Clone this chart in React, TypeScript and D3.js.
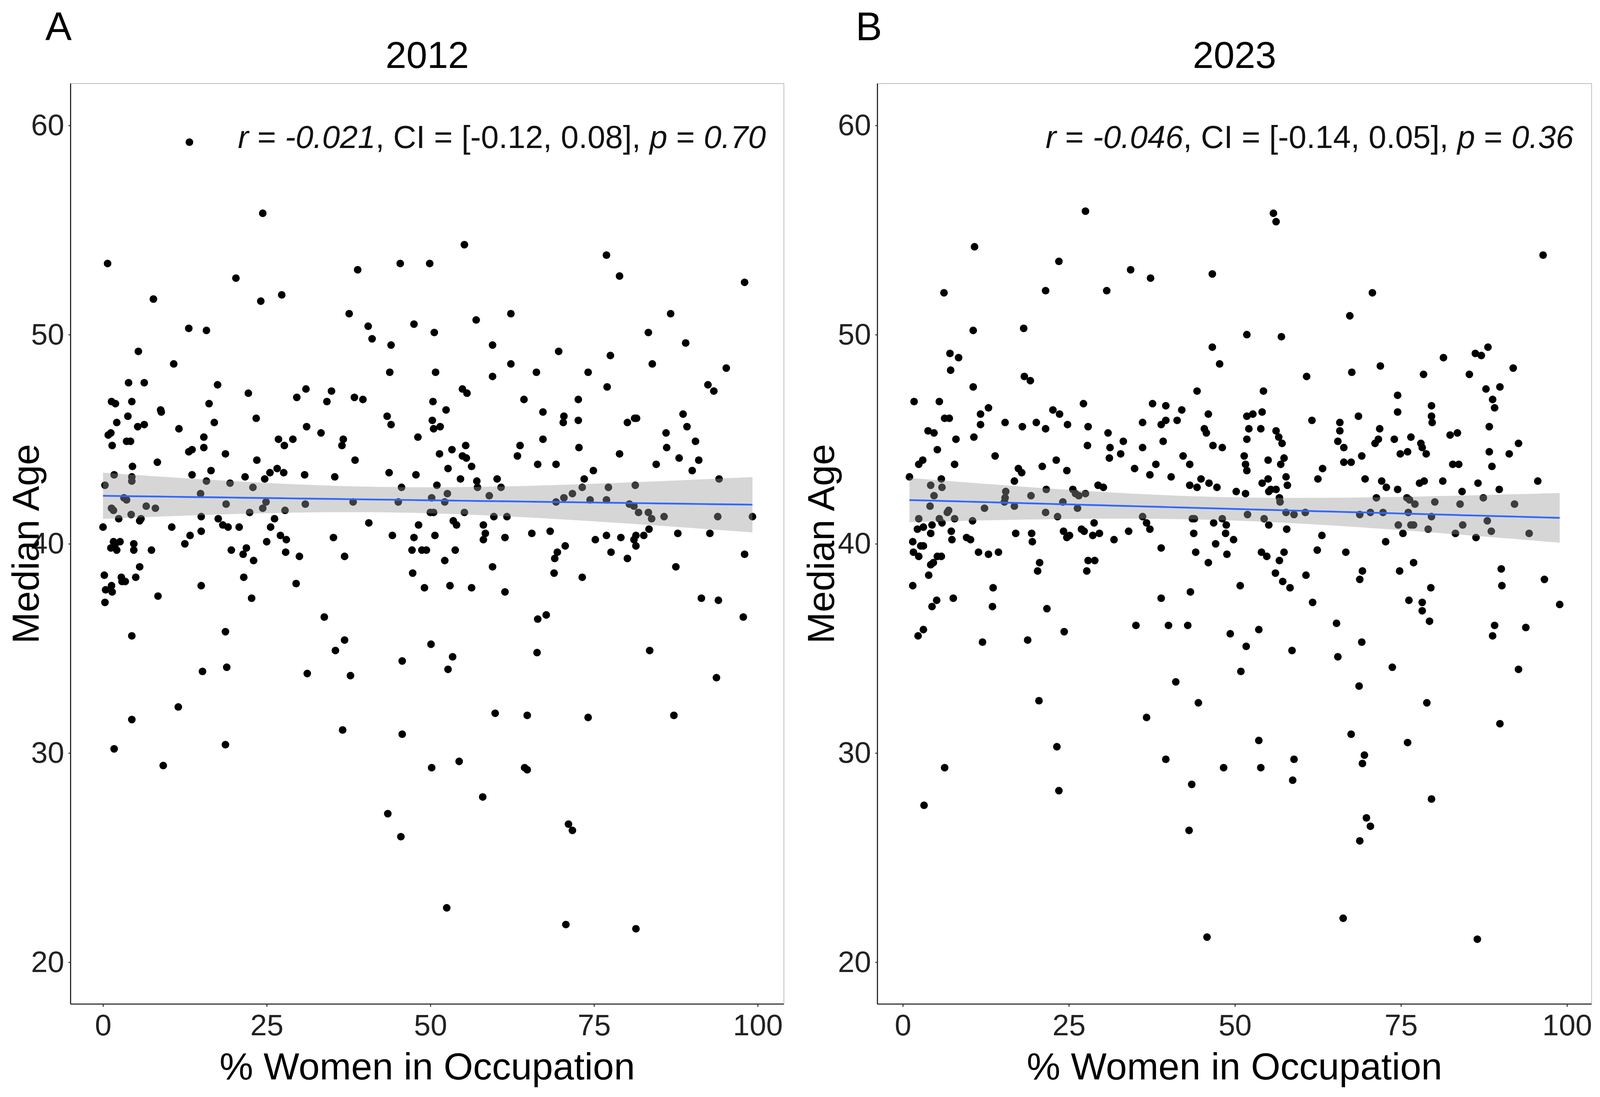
import * as d3 from "d3";
import React, { useEffect, useRef } from "react";

// % women in occupation vs median age
const points2012: [number, number][] = [
  [13.2,59.2],[24.4,55.8],[0.7,53.4],[20.3,52.7],[45.4,53.4],[38.9,53.1],[7.7,51.7],[24.1,51.6],[27.3,51.9],[37.6,51.0],
  [13.1,50.3],[15.8,50.2],[40.5,50.4],[41.1,49.8],[44.0,49.5],[5.4,49.2],[43.8,48.2],[10.8,48.6],[3.9,47.7],[6.3,47.7],
  [17.5,47.6],[22.2,47.2],[31.0,47.4],[34.9,47.3],[29.6,47.0],[34.2,46.8],[38.4,47.0],[39.7,46.9],[1.3,46.8],[1.9,46.7],
  [4.4,46.8],[16.2,46.7],[8.8,46.4],[8.9,46.3],[3.8,46.1],[23.4,46.0],[43.4,46.1],[44.0,45.7],[2.1,45.8],[5.3,45.6],
  [6.3,45.7],[11.6,45.5],[17.0,45.8],[31.1,45.6],[0.8,45.2],[1.2,45.3],[33.3,45.3],[15.4,45.1],[26.8,45.0],[27.7,44.7],
  [29.0,45.0],[36.7,45.0],[36.5,44.7],[3.6,44.9],[4.2,44.9],[1.4,44.7],[15.4,44.6],[13.1,44.4],[13.6,44.5],[18.7,44.3],
  [23.5,44.0],[38.5,44.0],[8.3,43.9],[4.5,43.7],[16.5,43.5],[26.6,43.6],[27.6,43.4],[25.5,43.4],[43.7,43.4],[1.7,43.3],
  [4.4,43.2],[13.6,43.3],[21.7,43.2],[24.7,43.1],[30.8,43.3],[35.4,43.2],[4.4,43.0],[15.8,43.0],[0.3,42.8],[19.4,42.9],
  [22.9,42.7],[45.6,42.7],[14.9,42.4],[3.2,42.2],[3.6,42.1],[1.3,41.7],[1.6,41.6],[6.6,41.8],[8.0,41.7],[18.8,41.9],
  [24.4,41.7],[24.9,42.0],[30.9,41.9],[38.2,42.0],[45.1,42.0],[27.8,41.6],[2.4,41.2],[4.3,41.4],[15.0,41.3],[22.4,41.5],
  [5.6,41.1],[5.8,41.2],[17.6,41.2],[26.2,41.2],[0.0,40.8],[10.5,40.8],[18.3,40.9],[19.1,40.8],[20.8,40.8],[25.6,40.8],
  [40.6,41.0],[15.0,40.6],
  [27.1,40.4],[28.0,40.2],[35.2,40.3],[44.2,40.4],[12.5,40.0],[13.3,40.4],[1.2,39.8],[1.6,40.1],[2.1,39.7],[1.8,39.9],
  [2.6,40.1],[4.7,40.0],[4.7,39.7],[5.6,38.9],[7.4,39.7],[0.2,38.5],[0.3,37.2],[0.4,37.8],[1.3,38.0],[1.4,37.7],
  [2.8,38.4],[2.9,38.2],[3.4,38.2],[5.0,38.4],[8.4,37.5],[15.0,38.0],[19.6,39.7],[21.4,39.5],[21.9,39.8],[23.0,39.2],
  [21.5,38.4],[22.7,37.4],[25.0,40.1],[27.9,39.6],[30.0,39.4],[29.5,38.1],[36.9,39.4],[33.8,36.5],[35.5,34.9],[36.9,35.4],
  [4.4,35.6],[18.7,35.8],[18.9,34.1],[15.2,33.9],[31.2,33.8],[37.8,33.7],[45.7,34.4],[11.5,32.2],[4.4,31.6],[36.6,31.1],
  [45.7,30.9],[1.7,30.2],[18.7,30.4],[9.2,29.4],[43.5,27.1],[45.5,26.0],
  [55.2,54.3],[49.9,53.4],[76.9,53.8],[78.9,52.8],[98.0,52.5],[47.5,50.5],[50.6,50.1],[57.0,50.7],[62.3,51.0],[86.7,51.0],
  [83.3,50.1],[89.0,49.6],[59.5,49.5],[69.6,49.2],[77.5,49.0],[62.3,48.6],[83.9,48.6],[50.8,48.2],[66.2,48.2],[74.1,48.2],
  [95.2,48.4],[59.5,48.0],[77.0,47.5],[54.9,47.4],[55.6,47.2],[92.4,47.6],[93.3,47.3],[64.3,46.9],[72.6,46.9],[50.4,46.8],
  [52.4,46.4],[67.2,46.3],[70.4,46.1],[70.3,45.8],[72.6,45.9],[88.6,46.2],[50.3,45.9],[50.5,45.5],[51.5,45.6],[80.1,45.8],
  [81.2,46.0],[81.5,46.0],[89.2,45.6],[48.1,45.1],[67.2,45.0],[86.0,45.3],[63.7,44.7],[90.5,44.9],[55.4,44.7],[72.7,44.6],
  [86.1,44.6],[53.3,44.5],[63.3,44.2],[51.4,44.3],[78.9,44.3],[54.9,44.2],[55.5,44.1],[56.3,43.7],[88.0,44.1],[91.0,44.0],
  [66.4,43.8],[69.2,43.8],[84.5,43.8],[52.7,43.6],[74.9,43.5],[90.0,43.5],[47.8,43.3],[54.6,43.1],[57.1,43.0],[60.2,43.1],
  [73.5,43.1],[94.1,43.1],[51.0,42.8],[57.2,42.7],[60.8,42.7],[73.2,42.7],[77.2,42.7],[81.3,42.8],[52.6,42.4],[59.0,42.3],
  [71.7,42.4],[70.4,42.2],[50.2,42.2],[52.2,42.0],[69.2,42.0],[74.4,42.1],[76.9,42.1],[80.4,41.9],[81.1,41.8],[50.0,41.5],
  [50.5,41.5],[55.2,41.5],[81.8,41.5],[83.3,41.5],[83.8,41.2],[59.7,41.3],[61.7,41.3],[85.7,41.3],[93.9,41.3],[99.2,41.3],
  [53.5,41.1],[54.0,40.9],[58.1,40.9],[48.2,40.9],[83.4,40.7],[58.4,40.5],[68.3,40.6],[65.5,40.5],[87.8,40.5],[92.7,40.5],
  [47.5,40.3],[50.7,40.4],[47.2,39.7],[48.7,39.7],[49.4,39.7],[47.3,38.6],[49.1,37.9],[52.2,39.2],[53.8,39.7],[53.0,38.0],
  [56.3,37.9],[58.1,40.2],[61.4,40.3],[59.5,38.9],[61.4,37.7],[69.0,39.3],[69.4,39.6],[68.9,38.6],[70.6,39.9],[73.2,38.4],
  [75.2,40.2],[76.9,40.4],[77.6,39.6],[79.1,40.3],[80.1,39.3],[81.1,40.2],[81.4,40.4],[81.4,39.9],[82.6,40.4],[87.5,38.9],
  [98.0,39.5],[91.4,37.4],[94.0,37.3],[97.8,36.5],[66.4,36.4],[67.7,36.6],[50.1,35.2],[53.4,34.6],[52.7,34.0],[66.3,34.8],
  [83.5,34.9],[93.7,33.6],[59.9,31.9],[64.8,31.8],[74.1,31.7],[87.2,31.8],[50.2,29.3],[54.4,29.6],[64.4,29.3],[64.8,29.2],
  [58.0,27.9],[71.1,26.6],[71.7,26.3],[52.5,22.6],[70.7,21.8],[81.4,21.6],
];

const points2023: [number, number][] = [
  [27.5,55.9],[10.8,54.2],[23.5,53.5],[34.3,53.1],[37.3,52.7],[6.2,52.0],[21.5,52.1],[30.7,52.1],[10.6,50.2],[18.2,50.3],
  [7.1,49.1],[8.4,48.9],[7.2,48.3],[18.3,48.0],[19.2,47.8],[10.6,47.5],[44.3,47.3],[1.7,46.8],[5.5,46.8],[27.2,46.7],
  [37.6,46.7],[39.6,46.6],[22.6,46.4],[23.6,46.2],[12.9,46.5],[11.7,46.2],[42.0,46.4],[41.3,45.9],[6.3,46.0],[7.0,46.0],
  [15.4,45.8],[20.1,45.8],[11.7,45.7],[24.8,45.7],[36.1,45.8],[38.9,45.7],[39.6,45.9],[18.0,45.6],[21.5,45.5],[27.9,45.6],
  [3.8,45.4],[4.7,45.3],[30.9,45.3],[10.7,45.1],[8.0,45.0],[33.2,44.9],[39.2,44.9],[5.2,44.5],[27.8,44.7],[31.2,44.6],
  [36.1,44.6],[13.9,44.2],[31.1,44.1],[32.8,44.3],[42.2,44.2],[23.1,44.0],[2.4,43.8],[3.0,44.0],[7.8,43.8],[21.0,43.7],
  [43.2,43.8],[38.1,43.8],[34.9,43.6],[17.4,43.6],[17.9,43.4],[24.7,43.5],[1.0,43.2],[5.8,43.1],[16.8,43.0],[37.2,43.3],
  [40.4,43.2],[44.9,43.1],[29.4,42.8],[30.2,42.7],[43.2,42.8],[44.3,42.7],[4.2,42.8],[5.9,42.7],[21.6,42.6],[25.6,42.6],
  [26.0,42.4],[26.5,42.3],[27.5,42.4],[15.5,42.5],[15.4,42.2],[19.3,42.3],[4.7,42.3],[15.3,42.0],[24.1,42.0],[4.1,41.8],
  [16.8,41.8],[26.3,41.7],[6.9,41.6],[6.7,41.5],[12.3,41.7],[21.5,41.5],[23.3,41.3],[36.1,41.3],[36.7,41.0],[43.6,41.2],
  [43.9,41.2],[2.4,41.2],[7.8,41.2],[5.5,41.2],[5.9,41.0],[10.5,41.1],[28.8,41.0],[37.2,40.7],[3.1,40.8],[2.2,40.7],
  [4.4,40.9],[4.2,40.5],[26.9,40.7],[27.3,40.6],[29.6,40.5],[34.0,40.6],[43.8,40.5],[24.2,40.6],[17.0,40.5],[19.4,40.5],
  [7.3,40.6],
  [1.5,40.1],[1.6,39.6],[2.4,39.4],[2.7,39.9],[3.1,39.9],[3.9,38.5],[4.2,39.0],[4.6,39.1],[5.2,39.4],[5.8,39.4],
  [1.5,38.0],[7.4,40.2],[9.6,40.3],[10.2,40.2],[11.4,39.6],[12.9,39.5],[14.4,39.6],[13.6,37.9],[13.5,37.0],[7.6,37.4],
  [5.1,37.3],[4.4,37.0],[2.3,35.6],[3.1,35.9],[12.0,35.3],[6.3,29.3],[3.2,27.5],[19.5,40.1],[20.6,39.1],[20.3,38.7],
  [21.7,36.9],[18.8,35.4],[20.5,32.5],[23.2,30.3],[23.5,28.2],[24.3,35.8],[24.7,40.3],[25.1,40.4],[27.7,38.7],[27.9,39.2],
  [28.9,39.2],[28.6,40.4],[31.8,40.2],[35.1,36.1],[38.9,39.8],[38.9,37.4],[40.0,36.1],[42.9,36.1],[41.1,33.4],[36.7,31.7],
  [39.6,29.7],[43.5,28.5],[43.1,26.3],[43.3,37.7],[44.1,39.6],[44.5,32.4],
  [46.0,39.1],[47.1,40.0],[48.6,40.5],[49.8,40.2],[48.8,39.5],[50.8,38.0],[49.3,35.7],[51.7,35.1],[50.9,33.9],[48.3,29.3],
  [45.8,21.2],[53.6,35.9],[53.6,30.6],[53.9,29.3],[54.0,39.6],[54.8,39.4],[56.1,38.6],[56.7,39.2],[57.4,39.6],[57.2,38.2],
  [58.3,37.9],[58.6,34.9],[58.9,29.7],[58.7,28.7],[60.7,38.5],[61.7,37.2],[62.4,39.7],[63.1,40.4],[65.3,36.2],[65.5,34.6],
  [66.7,39.6],[67.5,30.9],[66.3,22.1],[68.8,38.3],[69.2,38.7],[69.1,35.3],[68.7,33.2],[69.5,29.9],[69.2,29.5],[69.8,26.9],
  [70.4,26.5],[68.8,25.8],[72.7,40.1],[73.7,34.1],[74.8,38.7],[75.3,40.5],[76.9,39.1],[76.2,37.3],[78.2,37.2],[78.2,36.8],
  [79.3,36.3],[79.5,37.9],[78.9,32.4],[76.0,30.5],[79.6,27.8],[86.3,40.3],[86.5,21.1],[90.1,38.8],[90.2,38.0],[89.1,36.1],
  [88.8,35.6],[89.9,31.4],[93.8,36.0],[92.7,34.0],[96.6,38.3],[98.9,37.1],[83.2,40.5],
  [55.8,55.8],[56.2,55.4],[46.6,52.9],[96.4,53.8],[70.7,52.0],[67.3,50.9],[51.8,50.0],[57.0,49.9],[46.6,49.4],[88.1,49.4],
  [86.2,49.1],[87.1,49.0],[81.4,48.9],[47.7,48.6],[71.9,48.5],[91.9,48.4],[60.8,48.0],[67.6,48.2],[78.4,48.1],[85.3,48.1],
  [54.3,47.3],[87.8,47.4],[89.9,47.5],[74.5,47.1],[88.8,46.9],[89.1,46.5],[79.6,46.6],[46.0,46.2],[51.8,46.1],[52.7,46.2],
  [54.1,46.3],[74.5,46.3],[79.6,46.1],[79.7,45.8],[61.6,45.9],[68.6,46.1],[45.4,45.5],[45.7,45.3],[52.1,45.5],[53.9,45.5],
  [65.8,45.8],[65.8,45.4],[71.8,45.5],[88.3,45.6],[56.2,45.4],[56.6,45.1],[57.1,44.8],[51.8,45.0],[46.7,44.7],[48.1,44.6],
  [65.5,44.9],[66.4,44.6],[71.6,45.0],[71.1,44.8],[74.0,45.0],[76.5,45.1],[78.0,44.8],[78.2,44.6],[82.4,45.2],[83.5,45.3],
  [92.7,44.8],[88.3,44.4],[91.3,44.3],[51.4,44.2],[55.0,44.0],[57.4,44.1],[56.9,43.8],[69.1,44.2],[74.9,44.3],[76.0,44.4],
  [78.8,44.3],[66.4,43.9],[67.5,43.9],[82.8,43.8],[83.7,43.8],[88.7,43.7],[51.6,43.8],[51.8,43.5],[63.2,43.6],[62.5,43.1],
  [57.7,43.2],[57.9,42.8],[46.1,42.9],[47.3,42.7],[54.1,42.9],[55.0,43.1],[69.6,43.1],[72.1,43.0],[72.8,42.7],[74.5,42.6],
  [77.8,42.9],[78.5,43.0],[81.3,43.0],[86.6,42.9],[89.8,42.6],[95.6,43.0],[50.2,42.5],[51.6,42.4],[55.1,42.5],[56.2,42.6],
  [55.4,42.6],[84.2,42.5],[56.7,42.2],[56.8,42.0],[71.3,42.2],[75.9,42.2],[76.3,42.1],[87.4,42.2],[77.1,41.9],[80.1,42.0],
  [83.9,41.9],[92.1,41.9],[60.6,41.5],[57.7,41.5],[58.9,41.4],[51.9,41.4],[68.8,41.4],[70.4,41.5],[72.3,41.5],[76.1,41.5],
  [79.6,41.3],[48.1,41.2],[54.4,41.2],[46.8,41.0],[55.1,40.9],[48.7,40.9],[88.0,41.1],[74.6,40.9],[76.5,40.9],[76.9,40.9],
  [84.3,40.9],[57.8,40.7],[79.1,40.7],[88.6,40.6],[94.3,40.5],
];

const years = ["2012", "2023"];
const panelLetters = ["A", "B"];
const statR = ["-0.021", "-0.046"];
const statCI = ["[-0.12, 0.08]", "[-0.14, 0.05]"];
const statP = ["0.70", "0.36"];
const xTicks = [0, 25, 50, 75, 100];
const yTicks = [20, 30, 40, 50, 60];
const yDomain: [number, number] = [18, 62];
const xDomains: [number, number][] = [[-4.95, 104.0], [-3.82, 103.7]];

// layout is laid out on the reference's 5507 x 2809 grid, then fitted to the window
const REF_W = 5507;
const REF_H = 2809;
const FONT = "'Liberation Sans', Arial, sans-serif";

// linear fit with 95% confidence band (like geom_smooth(method = "lm"))
function lmFit(pts: [number, number][]) {
  const n = pts.length;
  const mx = d3.mean(pts, (d) => d[0]) as number;
  const my = d3.mean(pts, (d) => d[1]) as number;
  const sxx = d3.sum(pts, (d) => (d[0] - mx) ** 2);
  const sxy = d3.sum(pts, (d) => (d[0] - mx) * (d[1] - my));
  const b = sxy / sxx;
  const a = my - b * mx;
  const sse = d3.sum(pts, (d) => (d[1] - (a + b * d[0])) ** 2);
  const s = Math.sqrt(sse / (n - 2));
  const t = 1.966;
  const [x0, x1] = d3.extent(pts, (d) => d[0]) as [number, number];
  return d3.range(81).map((i) => {
    const x = x0 + ((x1 - x0) * i) / 80;
    const yh = a + b * x;
    const se = s * Math.sqrt(1 / n + (x - mx) ** 2 / sxx);
    return { x, y: yh, lo: yh - t * se, hi: yh + t * se };
  });
}

const App: React.FC = () => {
  const ref = useRef<SVGSVGElement | null>(null);

  useEffect(() => {
    const vw = window.innerWidth || REF_W;
    const vh = window.innerHeight || REF_H;
    const sx = vw / REF_W;
    const sy = vh / REF_H;
    const k = Math.pow(sx * sy, 0.4); // size factor for text and marks
    const X = (v: number) => v * sx;
    const Y = (v: number) => v * sy;

    const svg = d3.select(ref.current);
    svg.selectAll("*").remove();
    svg.attr("width", vw).attr("height", vh);

    const top = Y(214);
    const bottom = Y(2571);
    const panels = [
      { data: points2012, left: X(243), right: X(2698), letterX: X(156) },
      { data: points2023, left: X(3020), right: X(5478), letterX: X(2945) },
    ];
    const titleSize = 109 * k;

    panels.forEach((p, i) => {
      const x = d3.scaleLinear().domain(xDomains[i]).range([p.left, p.right]);
      const y = d3.scaleLinear().domain(yDomain).range([bottom, top]);
      const g = svg.append("g");
      const cx = (p.left + p.right) / 2;

      // light panel border on top and right
      g.append("path")
        .attr("d", `M${p.left},${top}H${p.right}V${bottom}`)
        .attr("fill", "none")
        .attr("stroke", "#bdbdbd")
        .attr("stroke-width", 2.2 * k);

      // points
      g.append("g")
        .selectAll("circle")
        .data(p.data)
        .join("circle")
        .attr("cx", (d) => x(d[0]))
        .attr("cy", (d) => y(d[1]))
        .attr("r", 11 * k)
        .attr("fill", "#000");

      // smooth: band drawn over the points, then the fitted line
      const fit = lmFit(p.data);
      g.append("path")
        .datum(fit)
        .attr("fill", "#999999")
        .attr("fill-opacity", 0.4)
        .attr(
          "d",
          d3.area<{ x: number; lo: number; hi: number }>()
            .x((d) => x(d.x))
            .y0((d) => y(d.lo))
            .y1((d) => y(d.hi))
        );
      g.append("path")
        .datum(fit)
        .attr("fill", "none")
        .attr("stroke", "#3366FF")
        .attr("stroke-width", 5 * k)
        .attr("d", d3.line<{ x: number; y: number }>().x((d) => x(d.x)).y((d) => y(d.y)));

      // axes
      const xAxis = g.append("g")
        .attr("transform", `translate(0, ${bottom})`)
        .call(d3.axisBottom(x).tickValues(xTicks).tickSize(Y(7)).tickSizeOuter(0).tickPadding(Y(19)));
      const yAxis = g.append("g")
        .attr("transform", `translate(${p.left}, 0)`)
        .call(d3.axisLeft(y).tickValues(yTicks).tickSize(X(7)).tickSizeOuter(0).tickPadding(X(15)));
      [xAxis, yAxis].forEach((ax) => {
        ax.attr("font-family", FONT).attr("font-size", 86 * k);
        ax.select(".domain").attr("stroke", "#111").attr("stroke-width", 3 * k);
        ax.selectAll(".tick line").attr("stroke", "#333").attr("stroke-width", 3 * k);
        ax.selectAll(".tick text").attr("fill", "#222");
      });
      xAxis.select(".domain").attr("d", `M${p.left},0H${p.right}`);
      yAxis.select(".domain").attr("d", `M0,${top}V${bottom}`);

      // axis titles
      g.append("text")
        .attr("x", cx)
        .attr("y", Y(2764))
        .attr("text-anchor", "middle")
        .attr("font-family", FONT)
        .attr("font-size", titleSize)
        .text("% Women in Occupation");
      const yTitleX = Math.max(p.left - X(150), titleSize * 1.02);
      g.append("text")
        .attr("transform", `translate(${yTitleX}, ${(top + bottom) / 2}) rotate(-90)`)
        .attr("text-anchor", "middle")
        .attr("font-family", FONT)
        .attr("font-size", titleSize)
        .text("Median Age");

      // title and panel letter
      g.append("text")
        .attr("x", cx)
        .attr("y", Y(174))
        .attr("text-anchor", "middle")
        .attr("font-family", FONT)
        .attr("font-size", 108 * k)
        .text(years[i]);
      g.append("text")
        .attr("x", p.letterX)
        .attr("y", Y(103))
        .attr("font-family", FONT)
        .attr("font-size", 114 * k)
        .text(panelLetters[i]);

      // correlation annotation
      const ann = g.append("text")
        .attr("x", p.right - X(62))
        .attr("y", Y(379))
        .attr("text-anchor", "end")
        .attr("font-family", FONT)
        .attr("font-size", 92 * k)
        .attr("fill", "#111");
      ann.append("tspan").attr("font-style", "italic").text("r");
      ann.append("tspan").text(" = ");
      ann.append("tspan").attr("font-style", "italic").text(statR[i]);
      ann.append("tspan").text(`, CI = ${statCI[i]}, `);
      ann.append("tspan").attr("font-style", "italic").text("p");
      ann.append("tspan").text(" = ");
      ann.append("tspan").attr("font-style", "italic").text(statP[i]);
    });

    return () => {
      svg.selectAll("*").remove();
    };
  }, []);

  return (
    <>
      <style>{`body{margin:0;overflow:hidden;background:#fff}`}</style>
      <svg ref={ref} style={{ display: "block", background: "#fff" }} />
    </>
  );
};

export default App;
